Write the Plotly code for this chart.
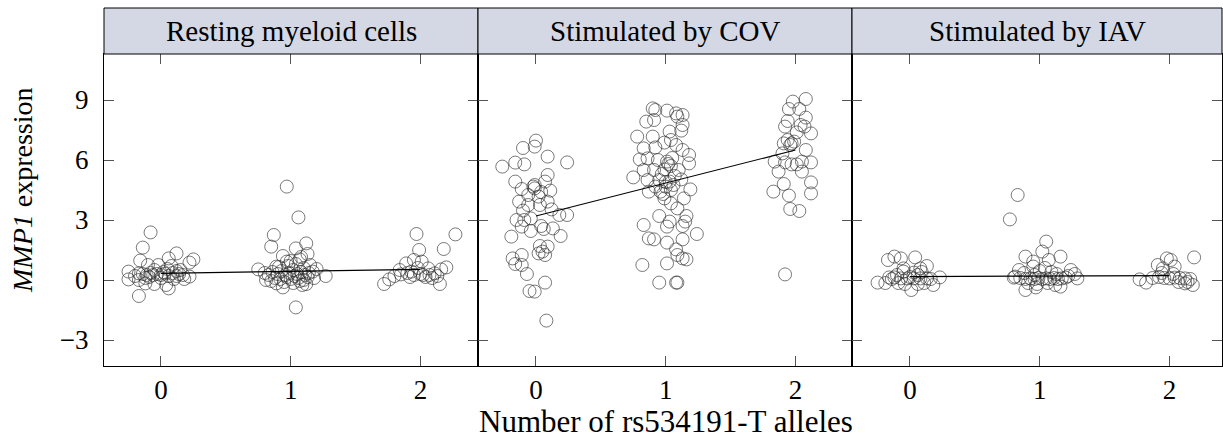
import plotly.graph_objects as go

# ---------------- data ----------------
panel_titles = ["Resting myeloid cells", "Stimulated by COV", "Stimulated by IAV"]
genotypes = [0, 1, 2]
x_ticks = [0, 1, 2]
y_ticks = [-3, 0, 3, 6, 9]
y_tick_text = ["\u22123", "0", "3", "6", "9"]

# (jitter offset, expression) pairs per genotype group
rest_g0 = [(-0.08, 2.38), (-0.14, 1.62), (0.12, 1.33), (0.06, 1.08), (-0.16, 0.97), (0.25, 1.03),
           (0.22, 0.87), (-0.10, 0.75), (-0.02, 0.75), (0.08, 0.70), (-0.25, 0.42), (-0.17, 0.33),
           (-0.11, 0.25), (-0.06, 0.25), (0.00, 0.25), (0.06, 0.20), (0.12, 0.20), (0.17, 0.25),
           (0.22, 0.17), (-0.25, 0.03), (-0.17, 0.00), (-0.12, -0.17), (-0.05, -0.20), (0.04, -0.25),
           (0.06, -0.42), (-0.17, -0.80), (-0.14, 0.30), (-0.08, 0.35), (-0.03, 0.30), (0.03, 0.32),
           (0.09, 0.35), (0.14, 0.30), (-0.12, 0.10), (0.00, 0.10), (0.10, 0.05), (-0.05, 0.50),
           (0.05, 0.55), (0.15, 0.50), (-0.20, 0.20), (0.18, 0.05), (-0.09, 0.15), (0.02, 0.40),
           (0.12, 0.45)]
rest_g1 = [(-0.03, 4.67), (0.06, 3.13), (-0.13, 2.25), (-0.15, 1.67), (0.12, 1.83), (0.13, 1.30),
           (0.04, 1.58), (-0.03, 0.92), (0.07, 1.03), (-0.11, 0.67), (-0.25, 0.53), (0.27, 0.20),
           (-0.17, 0.25), (0.17, 0.42), (0.04, -1.37), (-0.06, -0.37), (0.09, -0.25), (-0.19, 0.00),
           (-0.11, -0.17), (-0.14, 0.40), (-0.10, 0.30), (-0.07, 0.45), (-0.04, 0.25), (-0.01, 0.35),
           (0.02, 0.50), (0.05, 0.30), (0.08, 0.40), (0.11, 0.25), (0.14, 0.35), (-0.12, 0.10),
           (-0.08, 0.05), (-0.03, 0.15), (0.00, 0.05), (0.03, 0.20), (0.06, 0.10), (0.10, 0.00),
           (0.13, 0.15), (-0.09, 0.65), (-0.02, 0.70), (0.04, 0.80), (0.10, 0.60), (0.15, 0.75),
           (-0.05, -0.10), (0.02, -0.15), (0.07, -0.05), (0.12, -0.20), (-0.15, -0.05), (0.18, 0.10),
           (0.20, 0.55), (-0.20, 0.35), (0.00, 0.95), (0.08, 1.15), (-0.06, 1.20)]
rest_g2 = [(-0.03, 2.30), (0.27, 2.28), (0.18, 1.55), (-0.01, 1.50), (-0.05, 1.00), (-0.11, 0.83),
           (0.01, 0.92), (0.06, 0.58), (0.20, 0.63), (0.16, 0.53), (-0.16, 0.50), (-0.07, 0.42),
           (-0.28, -0.20), (-0.24, 0.03), (-0.20, 0.20), (-0.15, 0.28), (-0.05, 0.25), (0.02, 0.25),
           (0.07, 0.25), (0.11, 0.33), (0.15, -0.20), (0.00, 0.30), (-0.10, 0.35), (-0.02, 0.60),
           (0.04, 0.15), (0.09, 0.10), (-0.08, 0.15), (0.13, 0.20)]

cov_g0 = [(0.00, 6.97), (-0.10, 6.60), (-0.01, 6.67), (0.09, 6.17), (-0.26, 5.67), (-0.16, 5.87),
          (-0.09, 5.78), (0.24, 5.88), (0.09, 5.25), (-0.16, 4.92), (-0.02, 4.67), (0.07, 4.92),
          (-0.01, 4.58), (-0.11, 4.55), (0.11, 4.47), (0.02, 4.17), (-0.06, 4.25), (-0.13, 3.92),
          (0.09, 3.92), (0.03, 3.75), (-0.06, 3.75), (0.12, 3.53), (-0.10, 3.47), (0.18, 3.25),
          (0.24, 3.25), (-0.15, 3.00), (-0.09, 3.00), (-0.04, 3.08), (-0.11, 2.67), (-0.04, 2.45),
          (0.04, 2.70), (0.13, 2.58), (0.19, 2.20), (-0.19, 2.17), (0.03, 1.70), (0.09, 1.67),
          (0.02, 1.33), (0.07, 1.25), (0.05, 1.42), (-0.18, 1.08), (-0.11, 1.25), (-0.16, 0.80),
          (-0.11, 0.75), (-0.07, 0.30), (-0.05, -0.55), (-0.01, -0.58), (0.07, -0.13), (0.08, -2.03),
          (-0.01, 4.75), (0.04, 4.40), (0.06, 2.55)]
cov_g1 = [(-0.10, 8.58), (-0.08, 8.50), (0.01, 8.47), (0.08, 8.33), (0.13, 8.25), (0.09, 8.17),
          (-0.15, 7.92), (-0.09, 8.00), (0.13, 7.75), (0.12, 7.47), (0.03, 7.42), (-0.22, 7.17),
          (-0.10, 7.17), (0.04, 7.00), (-0.01, 6.87), (-0.17, 6.58), (-0.08, 6.63), (0.08, 6.75),
          (0.13, 6.50), (0.18, 6.25), (-0.20, 6.03), (-0.14, 6.08), (-0.06, 6.00), (0.01, 5.92),
          (0.04, 5.70), (0.18, 5.83), (-0.17, 5.50), (-0.09, 5.50), (-0.01, 5.53), (0.10, 5.50),
          (-0.25, 5.13), (-0.14, 5.00), (-0.05, 5.00), (0.03, 4.92), (0.12, 5.03), (-0.08, 4.67),
          (0.00, 4.67), (0.06, 4.75), (-0.13, 4.42), (-0.04, 4.42), (0.04, 4.50), (0.19, 4.53),
          (-0.01, 4.08), (0.14, 4.08), (0.04, 3.83), (0.09, 3.58), (-0.05, 3.20), (0.16, 3.20),
          (0.15, 2.92), (0.03, 2.92), (-0.17, 2.75), (0.01, 2.67), (0.13, 2.70), (0.24, 2.30),
          (-0.13, 2.08), (-0.09, 2.03), (0.01, 1.87), (0.13, 2.03), (0.08, 1.53), (0.09, 1.25),
          (0.13, 1.08), (0.16, 1.03), (-0.18, 0.75), (0.01, 0.83), (-0.05, -0.13), (0.08, -0.13),
          (0.09, -0.13), (0.02, 5.80), (0.05, 6.10), (-0.03, 5.30), (0.07, 5.20), (0.00, 4.90),
          (-0.02, 4.30)]
cov_g2 = [(0.08, 9.05), (-0.02, 8.92), (-0.05, 8.55), (0.03, 8.55), (0.08, 8.12), (-0.06, 7.95),
          (-0.08, 7.67), (0.04, 7.75), (0.07, 7.67), (0.12, 7.33), (0.01, 7.38), (-0.06, 7.00),
          (-0.03, 6.83), (-0.01, 6.92), (-0.04, 6.75), (-0.09, 6.83), (0.08, 6.50), (-0.10, 6.33),
          (-0.16, 5.92), (-0.08, 5.88), (-0.03, 5.78), (0.01, 5.78), (0.05, 5.92), (0.12, 5.88),
          (-0.13, 5.42), (0.05, 5.42), (-0.09, 4.80), (0.12, 4.88), (-0.17, 4.42), (0.12, 4.33),
          (-0.05, 4.22), (-0.04, 3.55), (0.03, 3.45), (-0.08, 0.28)]

iav_g0 = [(-0.25, -0.13), (-0.17, 1.00), (-0.12, 1.17), (-0.07, 1.08), (0.04, 1.13), (0.13, 0.70),
          (-0.05, 0.58), (0.08, 0.58), (0.23, 0.13), (0.18, -0.25), (0.01, -0.50), (-0.16, 0.13),
          (-0.12, 0.13), (-0.07, 0.08), (-0.02, 0.08), (0.03, 0.08), (0.08, 0.08), (0.13, 0.08),
          (-0.19, -0.15), (-0.09, -0.15), (-0.04, -0.20), (0.06, -0.20), (0.11, -0.15), (-0.05, 0.42),
          (0.03, 0.37), (0.09, 0.40), (-0.14, 0.05), (0.00, 0.15), (0.16, 0.05), (-0.10, 0.25),
          (0.06, 0.25)]
iav_g1 = [(-0.17, 4.25), (-0.23, 3.03), (0.05, 1.92), (0.02, 1.42), (0.16, 1.17), (-0.11, 1.17),
          (-0.05, 0.92), (-0.05, 0.67), (0.07, 1.00), (-0.16, 0.50), (0.24, 0.50), (0.27, 0.30),
          (0.29, 0.08), (-0.19, 0.17), (-0.11, -0.50), (-0.03, -0.37), (0.16, -0.33), (-0.15, 0.10),
          (-0.11, 0.05), (-0.07, 0.08), (-0.04, 0.05), (-0.01, 0.10), (0.02, 0.05), (0.05, 0.08),
          (0.08, 0.05), (0.11, 0.10), (0.14, 0.05), (0.17, 0.08), (0.20, 0.12), (-0.09, -0.15),
          (-0.02, -0.20), (0.06, -0.15), (0.12, -0.25), (-0.12, 0.35), (0.00, 0.45), (0.09, 0.40),
          (-0.04, 0.25), (0.04, 0.60), (0.13, 0.30), (-0.20, 0.12), (0.22, 0.20)]
iav_g2 = [(0.19, 1.13), (-0.09, 0.75), (-0.02, 1.08), (0.01, 1.00), (0.04, 0.67), (-0.05, 0.58),
          (-0.23, 0.03), (-0.18, -0.13), (-0.13, 0.10), (0.18, -0.25), (0.12, -0.17), (-0.08, 0.15),
          (-0.04, 0.10), (0.00, 0.08), (0.04, 0.12), (0.08, 0.10), (0.12, 0.08), (0.16, 0.05),
          (-0.06, 0.35), (0.03, 0.30), (0.07, -0.10), (0.14, -0.10)]

# fitted line values at genotype 0 and genotype 2
fit_at_0 = [0.33, 3.20, 0.17]
fit_at_2 = [0.53, 6.50, 0.22]

panel_groups = [[rest_g0, rest_g1, rest_g2],
                [cov_g0, cov_g1, cov_g2],
                [iav_g0, iav_g1, iav_g2]]

# ---------------- layout geometry ----------------
W, H = 1223, 441
ML, MR, MT, MB = 104, 1, 54, 75
PW = W - ML - MR
PH = H - MT - MB
bounds_px = [104, 478, 852, 1222]
domains = [[(bounds_px[i] - ML) / PW, (bounds_px[i + 1] - ML) / PW] for i in range(3)]
x_ranges = [[-0.439, 2.444], [-0.447, 2.436], [-0.447, 2.405]]
y_range = [-4.3, 11.3]
strip_h = 46 / PH

FONT = "Liberation Serif"
FS_TICK = 27
FS_STRIP = 29
FS_XTITLE = 31
FS_YTITLE = 28

fig = go.Figure()

for i, groups in enumerate(panel_groups):
    xs, ys = [], []
    for g, grp in zip(genotypes, groups):
        for dx, v in grp:
            xs.append(g + dx)
            ys.append(v)
    sfx = "" if i == 0 else str(i + 1)
    fig.add_trace(go.Scatter(
        x=xs, y=ys, mode="markers", xaxis="x" + sfx, yaxis="y" + sfx,
        marker=dict(symbol="circle-open", size=13, color="rgba(40,40,40,0.62)",
                    line=dict(width=1)),
        showlegend=False, hoverinfo="x+y"))
    fig.add_trace(go.Scatter(
        x=[genotypes[0], genotypes[-1]], y=[fit_at_0[i], fit_at_2[i]], mode="lines",
        xaxis="x" + sfx, yaxis="y" + sfx,
        line=dict(color="black", width=1.2), showlegend=False, hoverinfo="skip"))

axis_style = dict(showline=True, linecolor="black", linewidth=1, mirror="ticks",
                  ticks="inside", ticklen=10, tickwidth=1, tickcolor="#555555",
                  showgrid=False, zeroline=False,
                  tickfont=dict(family=FONT, size=FS_TICK, color="black"))

layout = dict(width=W, height=H, margin=dict(l=ML, r=MR, t=MT, b=MB),
              plot_bgcolor="white", paper_bgcolor="white",
              font=dict(family=FONT, size=FS_TICK, color="black"))
for i in range(3):
    sfx = "" if i == 0 else str(i + 1)
    layout["xaxis" + sfx] = dict(axis_style, domain=domains[i], range=x_ranges[i],
                                 anchor="y" + sfx, tickvals=x_ticks, ticklabelstandoff=0)
    layout["yaxis" + sfx] = dict(axis_style, domain=[0, 1], range=y_range,
                                 anchor="x" + sfx, tickvals=y_ticks, ticktext=y_tick_text,
                                 showticklabels=(i == 0), ticklabelstandoff=9)
fig.update_layout(**layout)

shapes = []
annotations = []
for i in range(3):
    shapes.append(dict(type="rect", xref="paper", yref="paper",
                       x0=domains[i][0], x1=domains[i][1], y0=1, y1=1 + strip_h,
                       fillcolor="#d4d8e4", line=dict(color="black", width=1), layer="above"))
    annotations.append(dict(text=panel_titles[i], xref="paper", yref="paper",
                            x=(domains[i][0] + domains[i][1]) / 2, y=1 + strip_h / 2,
                            xanchor="center", yanchor="middle", showarrow=False,
                            font=dict(family=FONT, size=FS_STRIP, color="black")))
annotations.append(dict(text="Number of rs534191-T alleles", xref="paper", yref="paper",
                        x=(666 - ML) / PW, y=(MT + PH - 421) / PH, xanchor="center",
                        yanchor="middle", showarrow=False,
                        font=dict(family=FONT, size=FS_XTITLE, color="black")))
annotations.append(dict(text="<i>MMP1</i> expression", xref="paper", yref="paper",
                        x=(22 - ML) / PW, y=(MT + PH - 190) / PH, xanchor="center",
                        yanchor="middle", textangle=-90, showarrow=False,
                        font=dict(family=FONT, size=FS_YTITLE, color="black")))
fig.update_layout(shapes=shapes, annotations=annotations)

fig.write_html("out.html")
